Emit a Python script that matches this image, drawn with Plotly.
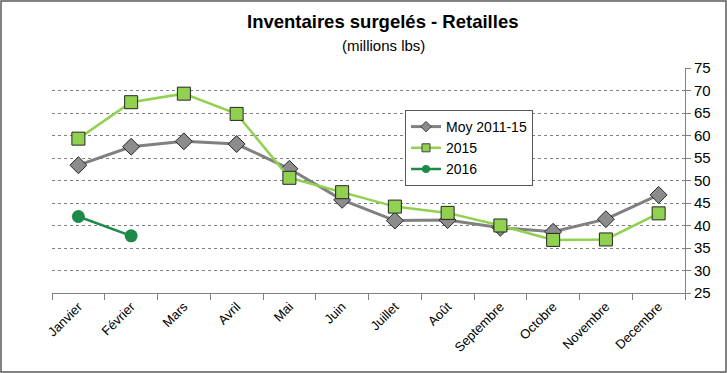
import plotly.graph_objects as go

months = ["Janvier", "Février", "Mars", "Avril", "Mai", "Juin", "Juillet", "Août",
          "Septembre", "Octobre", "Novembre", "Decembre"]
moy = [53.4, 57.5, 58.7, 58.1, 52.6, 45.7, 41.1, 41.2, 39.5, 38.6, 41.4, 46.8]
y2015 = [59.3, 67.4, 69.3, 64.8, 50.6, 47.4, 44.2, 42.8, 40.0, 36.8, 36.9, 42.7]
y2016 = [42.0, 37.7]

W, H = 727, 373
L, R, T, B = 52, 42, 68, 80
pw, ph = W - L - R, H - T - B

styles = [
    ("Moy 2011-15", moy, dict(color="#808080", width=3), "diamond", "#8c8c8c", True),
    ("2015", y2015, dict(color="#92d050", width=2.5), "square", "#92d050", True),
    ("2016", y2016, dict(color="#1e8a4a", width=2.5), "circle", "#1e8a4a", False),
]

fig = go.Figure()
for name, vals, line, sym, col, outline in styles:
    mline = dict(color="#262626", width=1) if outline else dict(width=0)
    fig.add_trace(go.Scatter(x=months[:len(vals)], y=vals, name=name, mode="lines+markers",
                             line=line, showlegend=False,
                             marker=dict(symbol=sym, size=13, color=col, line=mline)))
for name, vals, line, sym, col, outline in styles:
    mline = dict(color="#404040", width=1) if outline else dict(width=0)
    fig.add_trace(go.Scatter(x=[None], y=[None], name=name, mode="lines+markers",
                             line=line, showlegend=True,
                             marker=dict(symbol=sym, size=8, color=col, line=mline)))

fig.update_layout(
    width=W, height=H,
    margin=dict(l=L, r=R, t=T, b=B),
    paper_bgcolor="white", plot_bgcolor="white",
    font=dict(family="Liberation Sans, Arial", color="#000000"),
    showlegend=True,
    legend=dict(x=(405 - L) / pw, y=(293 - 110) / ph, xanchor="left", yanchor="top",
                bgcolor="white", bordercolor="#595959", borderwidth=1,
                font=dict(size=14), tracegroupgap=0, itemwidth=30),
    xaxis=dict(type="category", range=[-0.5, 11.5], showgrid=False,
               showline=True, linecolor="#808080", linewidth=1,
               ticks="outside", tickson="boundaries", ticklen=6, tickcolor="#808080",
               tickangle=-45, tickfont=dict(size=13), fixedrange=True),
    yaxis=dict(range=[25, 75], dtick=5, side="right", showgrid=True,
               gridcolor="#7f7f7f", griddash="dot", gridwidth=1,
               showline=True, linecolor="#808080", linewidth=1,
               ticks="outside", ticklen=5, tickcolor="#808080",
               tickfont=dict(size=15), zeroline=False),
    annotations=[
        dict(text="<b>Inventaires surgelés - Retailles</b>", xref="paper", yref="paper",
             x=(382 - L) / pw, y=1 + (T - 21) / ph, xanchor="center", yanchor="middle",
             showarrow=False, font=dict(size=18.5)),
        dict(text="(millions lbs)", xref="paper", yref="paper",
             x=(383 - L) / pw, y=1 + (T - 45) / ph, xanchor="center", yanchor="middle",
             showarrow=False, font=dict(size=15)),
    ],
    shapes=[dict(type="rect", xref="paper", yref="paper",
                 x0=-(L - 1) / pw, x1=1 + (R - 1) / pw,
                 y0=-(B - 1) / ph, y1=1 + (T - 1) / ph,
                 line=dict(color="#595959", width=1.5), layer="below")],
)

fig.write_html("out.html", config={"displayModeBar": False},
               post_script="document.body.style.margin='0';document.body.style.overflow='hidden';")
